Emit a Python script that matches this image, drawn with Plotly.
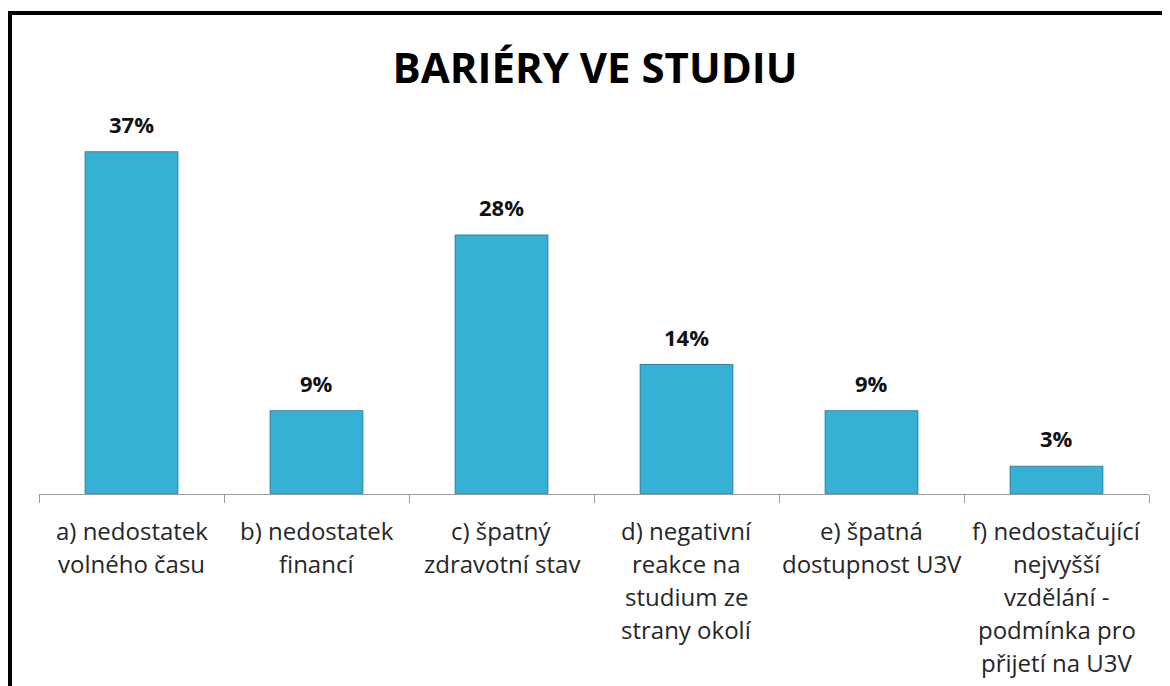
import plotly.graph_objects as go

categories = [
    "a) nedostatek volného času",
    "b) nedostatek financí",
    "c) špatný zdravotní stav",
    "d) negativní reakce na studium ze strany okolí",
    "e) špatná dostupnost U3V",
    "f) nedostačující nejvyšší vzdělání - podmínka pro přijetí na U3V",
]
label_lines = [
    ["a) nedostatek", "volného času"],
    ["b) nedostatek", "financí"],
    ["c) špatný", "zdravotní stav"],
    ["d) negativní", "reakce na", "studium ze", "strany okolí"],
    ["e) špatná", "dostupnost U3V"],
    ["f) nedostačující", "nejvyšší", "vzdělání -", "podmínka pro", "přijetí na U3V"],
]
values = [37, 9, 28, 14, 9, 3]
value_labels = ["37%", "9%", "28%", "14%", "9%", "3%"]
title_text = "BARIÉRY VE STUDIU"

W, H = 1170, 686
OFF = 8  # browser default body margin
ML, MR, MT, MB = 39 - OFF, 29, 124 - OFF, 200
plot_w = W - ML - MR
plot_h = H - MT - MB

FONT = "Open Sans"

fig = go.Figure()
fig.add_trace(go.Bar(
    x=categories,
    y=values,
    width=0.5,
    marker=dict(color="#36b0d4", line=dict(color="#2a8aa6", width=1.2)),
    hoverinfo="skip",
))

annotations = []
for c, v, t in zip(categories, values, value_labels):
    annotations.append(dict(
        x=c, y=v, xref="x", yref="y", text=f"<b>{t}</b>", showarrow=False,
        yshift=28, font=dict(family=FONT, size=22, color="#111111"),
    ))
for c, lines in zip(categories, label_lines):
    for i, ln in enumerate(lines):
        annotations.append(dict(
            x=c, y=0, xref="x", yref="paper", text=ln, showarrow=False,
            yanchor="middle", yshift=-(36 + 33 * i),
            font=dict(family=FONT, size=24, color="#262626"),
        ))

# outer border (top and left edges visible)
bx = (10 - OFF - ML) / plot_w
by = (H - MB - (13 - OFF)) / plot_h
shapes = [
    dict(type="line", xref="paper", yref="paper", x0=bx, x1=bx, y0=-1, y1=by,
         line=dict(color="black", width=4)),
    dict(type="line", xref="paper", yref="paper", x0=bx - 0.002, x1=1.1, y0=by, y1=by,
         line=dict(color="black", width=4)),
]

fig.update_layout(
    width=W, height=H,
    margin=dict(l=ML, r=MR, t=MT, b=MB),
    paper_bgcolor="white", plot_bgcolor="white",
    showlegend=False,
    title=dict(text=f"<b>{title_text}</b>", x=(595 - OFF) / W, xanchor="center",
               y=1 - (68 - OFF) / H, yanchor="middle", yref="container",
               font=dict(family=FONT, size=42, color="black")),
    xaxis=dict(
        type="category", range=[-0.5, 5.5], showticklabels=False,
        showline=True, linecolor="#9a9a9a", linewidth=1,
        ticks="outside", tickson="boundaries", ticklen=8, tickcolor="#9a9a9a",
        showgrid=False, zeroline=False, fixedrange=True,
    ),
    yaxis=dict(range=[0, 40], visible=False, showgrid=False, zeroline=False),
    annotations=annotations,
    shapes=shapes,
)

fig.write_html("out.html")
